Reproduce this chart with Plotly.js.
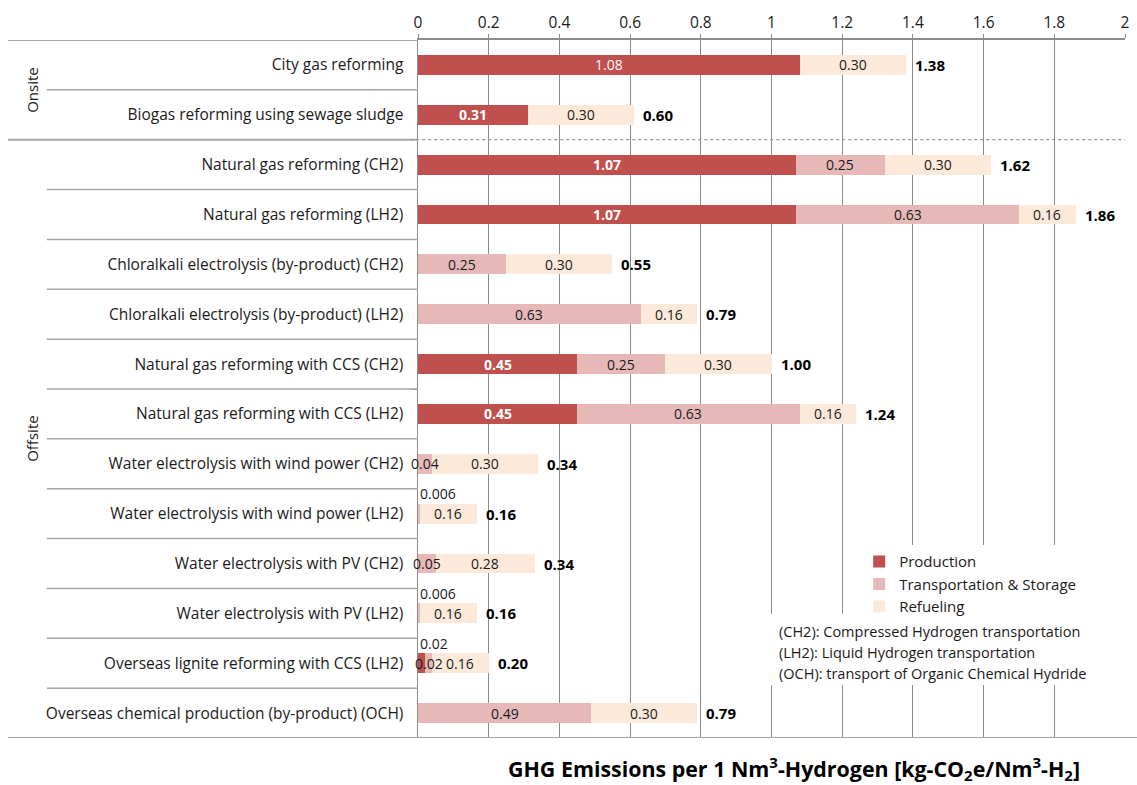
<!DOCTYPE html>
<html>
<head>
<meta charset="utf-8">
<script src="https://cdn.plot.ly/plotly-3.0.1.min.js"></script>
<style>
  html, body { margin: 0; padding: 0; background: #fff; }
  #chart { width: 1137px; height: 785px; }
</style>
</head>
<body>
<div id="chart"></div>
<script>
// Hydrogen supply pathways, listed top to bottom
const pathways = [
  'City gas reforming',
  'Biogas reforming using sewage sludge',
  'Natural gas reforming (CH2)',
  'Natural gas reforming (LH2)',
  'Chloralkali electrolysis (by-product) (CH2)',
  'Chloralkali electrolysis (by-product) (LH2)',
  'Natural gas reforming with CCS (CH2)',
  'Natural gas reforming with CCS (LH2)',
  'Water electrolysis with wind power (CH2)',
  'Water electrolysis with wind power (LH2)',
  'Water electrolysis with PV (CH2)',
  'Water electrolysis with PV (LH2)',
  'Overseas lignite reforming with CCS (LH2)',
  'Overseas chemical production (by-product) (OCH)'
];

// kg-CO2e per Nm3-H2 for each stage
const production     = [1.08, 0.31, 1.07, 1.07, 0,    0,    0.45, 0.45, 0,    0,     0,    0,     0.02, 0];
const transportation = [0,    0,    0.25, 0.63, 0.25, 0.63, 0.25, 0.63, 0.04, 0.006, 0.05, 0.006, 0.02, 0.49];
const refueling      = [0.30, 0.30, 0.30, 0.16, 0.30, 0.16, 0.30, 0.16, 0.30, 0.16,  0.28, 0.16,  0.16, 0.30];
const totals         = [1.38, 0.60, 1.62, 1.86, 0.55, 0.79, 1.00, 1.24, 0.34, 0.16,  0.34, 0.16,  0.20, 0.79];

const seriesNames = ['Production', 'Transportation & Storage', 'Refueling'];
const groupNames = ['Onsite', 'Offsite'];
const groupSizes = [2, 12];
const xTicks = [0, 0.2, 0.4, 0.6, 0.8, 1, 1.2, 1.4, 1.6, 1.8, 2];
const notes = [
  '(CH2): Compressed Hydrogen transportation',
  '(LH2): Liquid Hydrogen transportation',
  '(OCH): transport of Organic Chemical Hydride'
];

// styling
const FONT = '"Open Sans", "Noto Sans", sans-serif';
const colors = ['#C0504D', '#E6B9B8', '#FDE9D9'];
const GRID = '#8c8c8c';
const TEXT = '#1a1a1a';
// value labels in the production segment: bold except the first row
const prodLabelBold = [false, true, true, true, true, true, true, true, true, true, true, true, false, true];
// segments whose label sits above the bar because it is too thin
const aboveLabel = {
  0: ['Overseas lignite reforming with CCS (LH2)'],
  1: ['Water electrolysis with wind power (LH2)', 'Water electrolysis with PV (LH2)'],
  2: []
};

const series = [production, transportation, refueling];

const traces = series.map((vals, s) => ({
  type: 'bar',
  orientation: 'h',
  name: seriesNames[s],
  y: pathways,
  x: vals,
  marker: { color: colors[s], line: { width: 0 } },
  hoverinfo: 'x+name'
}));

const fmt = v => (v > 0 && v < 0.01) ? v.toFixed(3) : v.toFixed(2);

const annotations = [];
pathways.forEach((p, i) => {
  let start = 0;
  series.forEach((vals, s) => {
    const v = vals[i];
    if (v > 0) {
      const above = aboveLabel[s].includes(p);
      const bold = s === 0 && prodLabelBold[i];
      annotations.push({
        x: above ? start : start + v / 2,
        y: p, xref: 'x', yref: 'y',
        text: bold ? '<b>' + fmt(v) + '</b>' : fmt(v),
        showarrow: false,
        xanchor: above ? 'left' : 'center',
        yshift: above ? 20 : 0,
        font: { family: FONT, size: 14, color: (s === 0 && !above) ? '#ffffff' : TEXT }
      });
    }
    start += v;
  });
  annotations.push({
    x: start, y: p, xref: 'x', yref: 'y',
    text: '<b>' + totals[i].toFixed(2) + '</b>',
    showarrow: false, xanchor: 'left', xshift: 7,
    font: { family: FONT, size: 15, color: '#000' }
  });
});

// group labels on the far left
let rowStart = 0;
groupNames.forEach((g, k) => {
  annotations.push({
    xref: 'paper', yref: 'y',
    x: -0.563, y: rowStart + groupSizes[k] / 2 - 0.5,
    text: g, textangle: -90, showarrow: false,
    font: { family: FONT, size: 15, color: TEXT }
  });
  rowStart += groupSizes[k];
});

// abbreviation notes, one line each
notes.forEach((n, k) => {
  annotations.push({
    xref: 'paper', yref: 'paper', x: 0.5075, y: 0.152 - k * 0.0295,
    xanchor: 'left', yanchor: 'middle', align: 'left',
    text: n, showarrow: false,
    font: { family: FONT, size: 14.5, color: TEXT }
  });
});

// axis title below the chart
annotations.push({
  xref: 'paper', yref: 'paper', x: 0.532, y: -0.043,
  xanchor: 'center', yanchor: 'middle',
  text: '<b>GHG Emissions per 1 Nm<sup>3</sup>-Hydrogen [kg-CO<sub>2</sub>e/Nm<sup>3</sup>-H<sub>2</sub>]</b>',
  showarrow: false,
  font: { family: FONT, size: 21.4, color: '#000' }
});

const shapes = [];
// white panel behind the notes
shapes.push({
  type: 'rect', xref: 'paper', yref: 'paper', layer: 'above',
  x0: 0.498, x1: 0.968, y0: 0.076, y1: 0.178,
  fillcolor: '#ffffff', line: { width: 0 }
});
// row separators in the label column
const LX_FULL = -0.58, LX_INNER = -0.525;
const groupEdges = [0];
groupSizes.reduce((acc, n) => { groupEdges.push(acc + n); return acc + n; }, 0);
for (let b = 0; b <= pathways.length; b++) {
  const isGroupEdge = groupEdges.includes(b);
  shapes.push({
    type: 'line', xref: 'paper', yref: 'y', layer: 'above',
    x0: isGroupEdge ? LX_FULL : LX_INNER, x1: 0,
    y0: b - 0.5, y1: b - 0.5,
    line: { color: '#a6a6a6', width: isGroupEdge ? 2 : 1.5 }
  });
}
// bottom edge runs across the whole figure
shapes.push({
  type: 'line', xref: 'paper', yref: 'y', layer: 'above',
  x0: 0, x1: 1.02, y0: pathways.length - 0.5, y1: pathways.length - 0.5,
  line: { color: '#a6a6a6', width: 2 }
});
// dotted divider between onsite and offsite
shapes.push({
  type: 'line', xref: 'paper', yref: 'y', layer: 'above',
  x0: -0.011, x1: 1, y0: groupSizes[0] - 0.5, y1: groupSizes[0] - 0.5,
  line: { color: '#9a9a9a', width: 1.2, dash: 'dot' }
});

const layout = {
  width: 1137, height: 785,
  margin: { l: 418, r: 12, t: 40, b: 47 },
  paper_bgcolor: '#fff', plot_bgcolor: '#fff',
  barmode: 'stack', bargap: 0.6,
  font: { family: FONT, size: 15, color: TEXT },
  showlegend: true,
  legend: {
    x: 0.624, y: 0.276, xanchor: 'left', yanchor: 'top',
    bgcolor: '#ffffff', borderwidth: 0,
    font: { family: FONT, size: 15, color: TEXT },
    traceorder: 'normal', itemwidth: 30, tracegroupgap: 0
  },
  xaxis: {
    side: 'top', range: [0, 2],
    tickmode: 'array', tickvals: xTicks,
    ticktext: xTicks.map(String),
    showgrid: true, gridcolor: GRID, gridwidth: 1,
    zeroline: false,
    showline: true, linecolor: '#8c8c8c', linewidth: 2,
    ticks: 'outside', ticklen: 4, tickcolor: '#8c8c8c',
    tickfont: { family: FONT, size: 15.5, color: TEXT },
    fixedrange: true
  },
  yaxis: {
    type: 'category', categoryorder: 'array', categoryarray: pathways,
    range: [pathways.length - 0.5, -0.5],
    showgrid: false, zeroline: false,
    showline: true, linecolor: '#8c8c8c', linewidth: 1.5,
    ticks: 'outside', tickson: 'boundaries', ticklen: 5, tickcolor: '#8c8c8c',
    ticklabelstandoff: 10,
    tickfont: { family: FONT, size: 15.5, color: TEXT },
    fixedrange: true
  },
  annotations: annotations,
  shapes: shapes
};

Plotly.newPlot('chart', traces, layout, { displayModeBar: false, staticPlot: true });
</script>
</body>
</html>
